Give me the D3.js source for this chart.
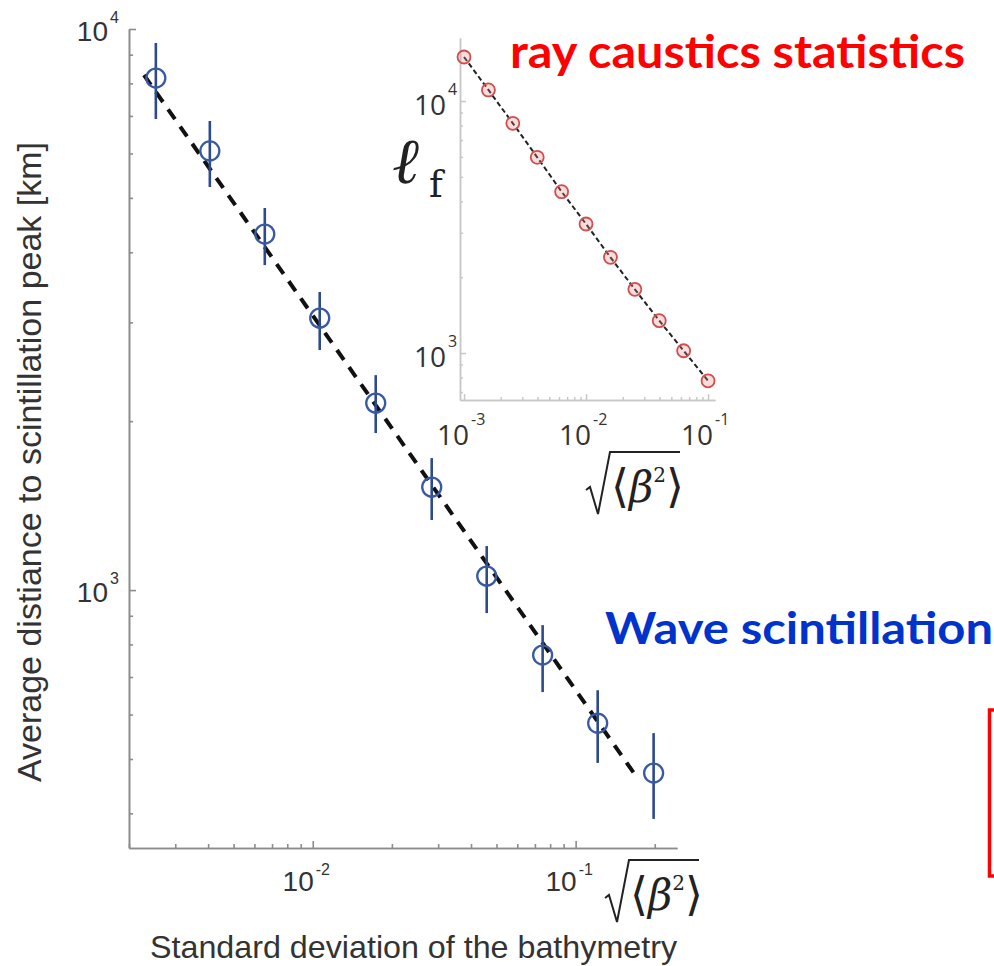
<!DOCTYPE html>
<html>
<head>
<meta charset="utf-8">
<script src="https://cdn.jsdelivr.net/npm/d3@7/dist/d3.min.js"></script>
<style>
  body { margin: 0; background: #fff; }
  svg { display: block; }
</style>
</head>
<body>
<svg id="chart" width="994" height="966"></svg>
<script>
// ---- Wave scintillation: average distance to the scintillation peak [km]
const waveSigma = [2.53e-3, 4.06e-3, 6.57e-3, 1.063e-2, 1.736e-2, 2.835e-2, 4.59e-2, 7.49e-2, 0.1213, 0.198];
const waveDist  = [8177, 6062, 4311, 3053, 2154, 1526, 1059, 766, 579, 472];
const waveLow   = [6912, 5229, 3795, 2678, 1905, 1333, 910, 658, 492, 391];
const waveHigh  = [9443, 6855, 4797, 3398, 2416, 1719, 1198, 866, 663, 556];
// power-law fit (slope -2/3 in log-log)
const waveFitSigma = [2.28e-3, 0.172];
const waveFitDist  = [8280, 462];

// ---- Ray caustics statistics: focal length l_f
const raySigma = [1e-3, 1.585e-3, 2.512e-3, 3.981e-3, 6.31e-3, 1e-2, 1.585e-2, 2.512e-2, 3.981e-2, 6.31e-2, 0.1];
const rayFocal = [14950, 11060, 8155, 5977, 4366, 3250, 2398, 1789, 1344, 1021, 776];

// ---- tick labels (powers of ten)
const mainXTicks  = [1e-2, 1e-1];
const mainXExp    = ["-2", "-1"];
const mainYTicks  = [1e3, 1e4];
const mainYExp    = ["3", "4"];
const insetXTicks = [1e-3, 1e-2, 1e-1];
const insetXExp   = ["-3", "-2", "-1"];
const insetYTicks = [1e3, 1e4];
const insetYExp   = ["3", "4"];

const titleRay  = "ray caustics statistics";
const titleWave = "Wave scintillation";
const xLabel = "Standard deviation of the bathymetry";
const yLabel = "Average distiance to scintillation peak [km]";

const svg = d3.select("#chart");
svg.append("rect").attr("width", 994).attr("height", 966).attr("fill", "#fff");

const SANS = "'Liberation Sans', Arial, Helvetica, sans-serif";
const INSET_FONT = "'Open Sans', 'Liberation Sans', sans-serif";
const SERIF = "'DejaVu Serif', 'Liberation Serif', serif";
const LABEL_COLOR = "#333";

// ================= main panel =================
const x = d3.scaleLog().domain([2e-3, 0.243]).range([129, 677]);
const y = d3.scaleLog().domain([347, 1e4]).range([848, 29]);

function styleAxis(g, color, width) {
  g.selectAll("path.domain").attr("stroke", color).attr("stroke-width", width);
  g.selectAll(".tick line").attr("stroke", color).attr("stroke-width", width);
  g.selectAll(".tick text").remove();
}

const minorX = x.ticks().filter(v => !mainXTicks.includes(v));
const minorY = y.ticks().filter(v => !mainYTicks.includes(v));

svg.append("g").attr("transform", "translate(0,848)")
  .call(d3.axisBottom(x).tickValues(minorX).tickSizeInner(-4).tickSizeOuter(0).tickFormat(() => ""))
  .call(g => styleAxis(g, "#8c8c8c", 1.6));
svg.append("g").attr("transform", "translate(0,848)")
  .call(d3.axisBottom(x).tickValues(mainXTicks).tickSizeInner(-7).tickSizeOuter(0).tickFormat(() => ""))
  .call(g => styleAxis(g, "#8c8c8c", 1.6));
svg.append("g").attr("transform", "translate(129,0)")
  .call(d3.axisLeft(y).tickValues(minorY).tickSizeInner(-4).tickSizeOuter(0).tickFormat(() => ""))
  .call(g => styleAxis(g, "#8c8c8c", 1.6));
svg.append("g").attr("transform", "translate(129,0)")
  .call(d3.axisLeft(y).tickValues(mainYTicks).tickSizeInner(-7).tickSizeOuter(0).tickFormat(() => ""))
  .call(g => styleAxis(g, "#8c8c8c", 1.6));

function powerLabel(g, bx, by, exp, ex, ey, size, expSize, font) {
  g.append("text").attr("x", bx).attr("y", by).attr("text-anchor", "end")
    .attr("font-family", font).attr("font-size", size).attr("fill", LABEL_COLOR).text("10");
  g.append("text").attr("x", ex).attr("y", ey).attr("text-anchor", "start")
    .attr("font-family", font).attr("font-size", expSize).attr("fill", LABEL_COLOR).text(exp);
}

const mainLabels = svg.append("g");
mainXTicks.forEach((v, i) => {
  const px = x(v);
  powerLabel(mainLabels, px + 1, 891, mainXExp[i], px + 3, 875, 28, 16, SANS);
});
mainYTicks.forEach((v, i) => {
  const py = y(v);
  powerLabel(mainLabels, 108, py + 12, mainYExp[i], 110, py - 6, 28, 16, SANS);
});

// axis titles
svg.append("text").attr("x", 150).attr("y", 958)
  .attr("font-family", SANS).attr("font-size", 32).attr("fill", LABEL_COLOR)
  .attr("textLength", 527).attr("lengthAdjust", "spacingAndGlyphs")
  .text(xLabel);
svg.append("text")
  .attr("transform", "translate(41,462) rotate(-90)")
  .attr("text-anchor", "middle")
  .attr("font-family", SANS).attr("font-size", 34).attr("fill", LABEL_COLOR)
  .text(yLabel);

// fit line
const fitLine = d3.line().x(d => x(d[0])).y(d => y(d[1]));
svg.append("path")
  .datum(waveFitSigma.map((s, i) => [s, waveFitDist[i]]))
  .attr("d", fitLine)
  .attr("fill", "none").attr("stroke", "#111").attr("stroke-width", 4)
  .attr("stroke-dasharray", "12,9");

// error bars and markers
const wave = waveSigma.map((s, i) => ({ s, d: waveDist[i], lo: waveLow[i], hi: waveHigh[i] }));
svg.append("g").selectAll("line").data(wave).join("line")
  .attr("x1", d => x(d.s)).attr("x2", d => x(d.s))
  .attr("y1", d => y(d.hi)).attr("y2", d => y(d.lo))
  .attr("stroke", "#2d4a8c").attr("stroke-width", 2.6);
svg.append("g").selectAll("circle").data(wave).join("circle")
  .attr("cx", d => x(d.s)).attr("cy", d => y(d.d)).attr("r", 9.5)
  .attr("fill", "none").attr("stroke", "#3a59a3").attr("stroke-width", 2.3);

// sqrt(<beta^2>) symbol
function sqrtBeta(g, ox, oy) {
  // ox, oy: left end of the radical hook
  g.append("path")
    .attr("d", `M${ox},${oy} L${ox + 4},${oy - 3} L${ox + 12},${oy + 24} L${ox + 24},${oy - 38} L${ox + 94},${oy - 38}`)
    .attr("fill", "none").attr("stroke", "#222").attr("stroke-width", 2).attr("stroke-linejoin", "miter");
  const t = g.append("text").attr("x", ox + 25).attr("y", oy + 12)
    .attr("font-family", SERIF).attr("font-size", 42).attr("fill", "#222");
  t.append("tspan").attr("font-size", 46).text("\u27E8");
  t.append("tspan").attr("font-style", "italic").text("\u03B2");
  t.append("tspan").attr("font-size", 20).attr("dy", -20).text("2");
  t.append("tspan").attr("font-size", 46).attr("dy", 20).text("\u27E9");
}
sqrtBeta(svg.append("g"), 605, 898);

// ================= inset panel =================
const xi = d3.scaleLog().domain([9.27e-4, 0.114]).range([460, 715]);
const yi = d3.scaleLog().domain([651, 17780]).range([400, 38]);

const minorXi = xi.ticks().filter(v => !insetXTicks.includes(v));
const minorYi = yi.ticks().filter(v => !insetYTicks.includes(v));

svg.append("g").attr("transform", "translate(0,400)")
  .call(d3.axisBottom(xi).tickValues(minorXi).tickSizeInner(-3).tickSizeOuter(0).tickFormat(() => ""))
  .call(g => styleAxis(g, "#c8c8c8", 1.5));
svg.append("g").attr("transform", "translate(0,400)")
  .call(d3.axisBottom(xi).tickValues(insetXTicks).tickSizeInner(-6).tickSizeOuter(0).tickFormat(() => ""))
  .call(g => styleAxis(g, "#c8c8c8", 1.5));
svg.append("g").attr("transform", "translate(460,0)")
  .call(d3.axisLeft(yi).tickValues(minorYi).tickSizeInner(-3).tickSizeOuter(0).tickFormat(() => ""))
  .call(g => styleAxis(g, "#c8c8c8", 1.5));
svg.append("g").attr("transform", "translate(460,0)")
  .call(d3.axisLeft(yi).tickValues(insetYTicks).tickSizeInner(-6).tickSizeOuter(0).tickFormat(() => ""))
  .call(g => styleAxis(g, "#c8c8c8", 1.5));

const insetLabels = svg.append("g");
insetXTicks.forEach((v, i) => {
  const px = xi(v);
  powerLabel(insetLabels, px + 5, 445, insetXExp[i], px + 7, 425, 28, 16, INSET_FONT);
});
insetYTicks.forEach((v, i) => {
  const py = yi(v);
  powerLabel(insetLabels, 446, py + 14, insetYExp[i], 448, py - 6, 28, 16, INSET_FONT);
});

// l_f axis title
svg.append("text").attr("x", 392).attr("y", 183)
  .attr("font-family", SERIF).attr("font-style", "italic").attr("font-size", 64).attr("fill", "#222")
  .text("\u2113");
svg.append("text").attr("x", 429).attr("y", 197)
  .attr("font-family", SERIF).attr("font-size", 37).attr("fill", "#222")
  .text("f");

sqrtBeta(svg.append("g"), 586, 490);

// fit through the ray points
const ray = raySigma.map((s, i) => ({ s, f: rayFocal[i] }));
svg.append("path")
  .datum(ray)
  .attr("d", d3.line().x(d => xi(d.s)).y(d => yi(d.f)))
  .attr("fill", "none").attr("stroke", "#222").attr("stroke-width", 2)
  .attr("stroke-dasharray", "5,3");
svg.append("g").selectAll("circle").data(ray).join("circle")
  .attr("cx", d => xi(d.s)).attr("cy", d => yi(d.f)).attr("r", 6.5)
  .attr("fill", "rgba(235,130,130,0.28)").attr("stroke", "#cf4f4f").attr("stroke-width", 1.8);

// ================= annotations =================
svg.append("text").attr("x", 510).attr("y", 68)
  .attr("font-family", "Lato, 'Open Sans', sans-serif").attr("font-weight", "bold")
  .attr("font-size", 46).attr("fill", "#ff0000")
  .attr("textLength", 455).attr("lengthAdjust", "spacingAndGlyphs")
  .text(titleRay);
svg.append("text").attr("x", 605).attr("y", 644)
  .attr("font-family", "Lato, 'Open Sans', sans-serif").attr("font-weight", "bold")
  .attr("font-size", 44).attr("fill", "#0033cc")
  .attr("textLength", 388).attr("lengthAdjust", "spacingAndGlyphs")
  .text(titleWave);

svg.append("rect").attr("x", 989.5).attr("y", 710).attr("width", 30).attr("height", 166)
  .attr("fill", "none").attr("stroke", "#ff0000").attr("stroke-width", 3.5);
</script>
</body>
</html>
